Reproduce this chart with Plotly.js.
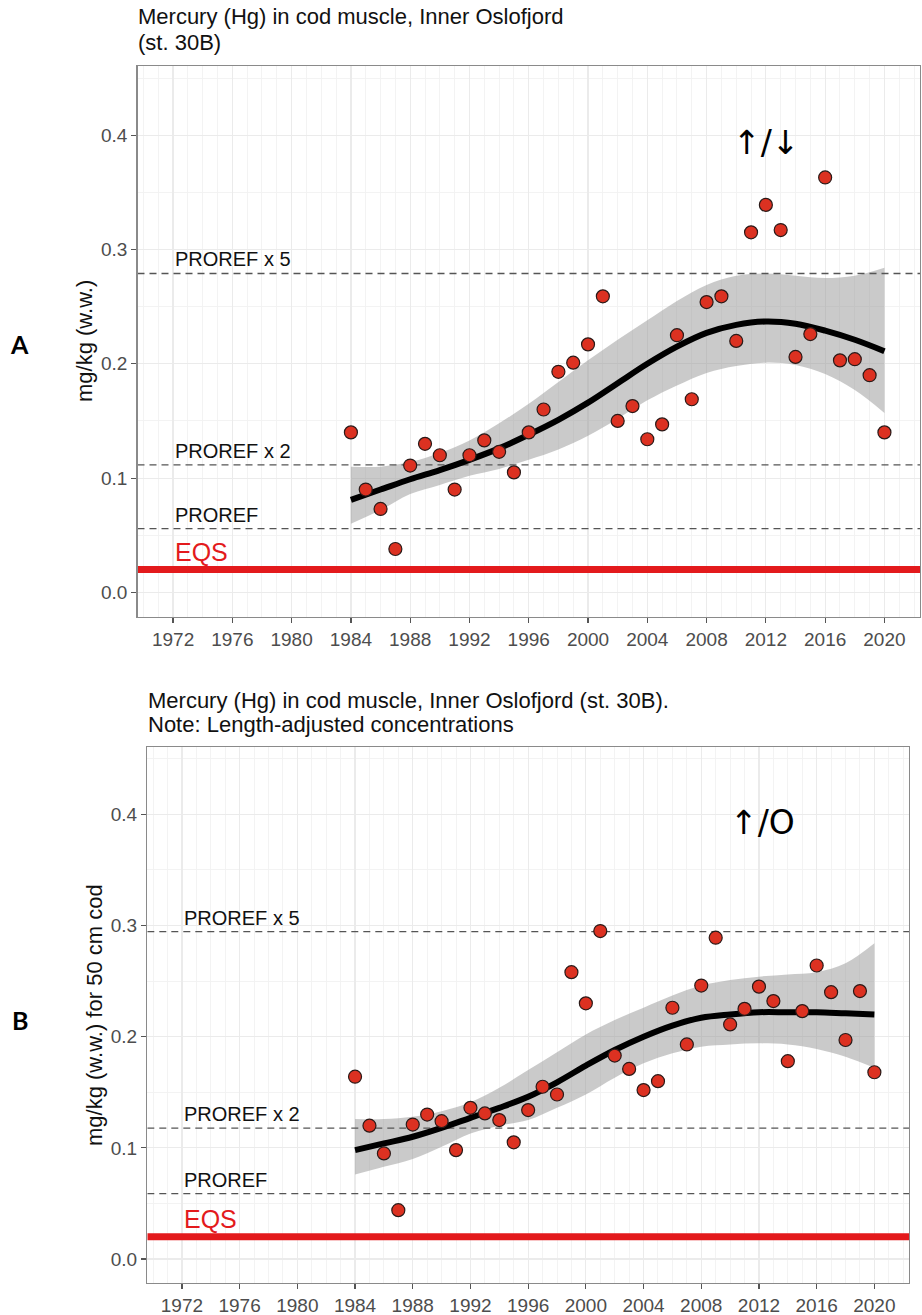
<!DOCTYPE html>
<html>
<head>
<meta charset="utf-8">
<script src="https://cdn.plot.ly/plotly-3.0.1.min.js"></script>
<style>html,body{margin:0;padding:0;background:#fff;}#chart{width:922px;height:1315px;}</style>
</head>
<body>
<div id="chart"></div>
<script>
// ---------- data ----------
const YEARS = [1984,1985,1986,1987,1988,1989,1990,1991,1992,1993,1994,1995,1996,1997,1998,1999,2000,2001,2002,2003,2004,2005,2006,2007,2008,2009,2010,2011,2012,2013,2014,2015,2016,2017,2018,2019,2020];
const HG_A = [0.140,0.090,0.073,0.038,0.111,0.130,0.120,0.090,0.120,0.133,0.123,0.105,0.140,0.160,0.193,0.201,0.217,0.259,0.150,0.163,0.134,0.147,0.225,0.169,0.254,0.259,0.220,0.315,0.339,0.317,0.206,0.226,0.363,0.203,0.204,0.190,0.140];
const HG_B = [0.164,0.120,0.095,0.044,0.121,0.130,0.124,0.098,0.136,0.131,0.125,0.105,0.134,0.155,0.148,0.258,0.230,0.295,0.183,0.171,0.152,0.160,0.226,0.193,0.246,0.289,0.211,0.225,0.245,0.232,0.178,0.223,0.264,0.240,0.197,0.241,0.168];

const FIT_YEARS = [1984,1986,1988,1990,1992,1994,1996,1998,2000,2002,2004,2006,2008,2010,2012,2014,2016,2018,2020];
const FIT_A   = [0.081,0.090,0.099,0.107,0.116,0.126,0.138,0.151,0.166,0.183,0.200,0.215,0.227,0.234,0.237,0.235,0.229,0.221,0.211];
const UPPER_A = [0.110,0.110,0.114,0.122,0.133,0.148,0.165,0.184,0.203,0.221,0.238,0.255,0.269,0.277,0.279,0.277,0.275,0.277,0.284];
const LOWER_A = [0.060,0.072,0.086,0.094,0.102,0.108,0.116,0.125,0.137,0.152,0.168,0.181,0.192,0.198,0.201,0.199,0.191,0.177,0.157];
const FIT_B   = [0.098,0.104,0.110,0.118,0.127,0.136,0.146,0.159,0.174,0.188,0.200,0.210,0.217,0.220,0.222,0.222,0.222,0.221,0.220];
const UPPER_B = [0.126,0.126,0.128,0.133,0.141,0.154,0.170,0.186,0.202,0.215,0.226,0.237,0.246,0.251,0.254,0.256,0.258,0.266,0.284];
const LOWER_B = [0.076,0.083,0.090,0.101,0.113,0.120,0.125,0.136,0.148,0.163,0.176,0.185,0.191,0.193,0.194,0.193,0.189,0.182,0.172];

const PROREF_A = 0.0558;
const PROREF_B = 0.0589;
const EQS = 0.02;
const REF_LABELS = ["PROREF", "PROREF x 2", "PROREF x 5"];
const REF_MULT = [1, 2, 5];
const TITLE_A = ["Mercury (Hg) in cod muscle, Inner Oslofjord", "(st. 30B)"];
const TITLE_B = ["Mercury (Hg) in cod muscle, Inner Oslofjord (st. 30B).", "Note: Length-adjusted concentrations"];
const YTITLE_A = "mg/kg (w.w.)";
const YTITLE_B = "mg/kg (w.w.) for 50 cm cod";
const TREND_A = "↑/↓";
const TREND_B = "↑/O";

// ---------- styling ----------
const W = 922, H = 1315;
const X_RANGE = [1969.6, 2022.4];
const Y_RANGE = [-0.0215, 0.4605];
const FONT = "Liberation Sans, Arial, Helvetica, sans-serif";
const RED_PT = "#dc3121";
const px = v => v / W;
const py = v => 1 - v / H;

function hline(xa, ya, v, line) {
  return {x: X_RANGE, y: [v, v], xaxis: xa, yaxis: ya, mode: "lines", line: line, hoverinfo: "skip", cliponaxis: true};
}

function panelTraces(xa, ya, fit, up, lo, pts, proref) {
  const t = [
    {x: FIT_YEARS, y: lo, xaxis: xa, yaxis: ya, mode: "lines", line: {width: 0, shape: "spline"}, hoverinfo: "skip"},
    {x: FIT_YEARS, y: up, xaxis: xa, yaxis: ya, mode: "lines", line: {width: 0, shape: "spline"}, fill: "tonexty", fillcolor: "rgba(150,150,150,0.5)", hoverinfo: "skip"}
  ];
  REF_MULT.forEach(m => t.push(hline(xa, ya, proref * m, {color: "#555", width: 1.3, dash: "7px,5px"})));
  t.push(hline(xa, ya, EQS, {color: "#e31a1c", width: 7}));
  t.push({x: FIT_YEARS, y: fit, xaxis: xa, yaxis: ya, mode: "lines", line: {color: "#000", width: 6, shape: "spline"}});
  t.push({x: YEARS, y: pts, xaxis: xa, yaxis: ya, mode: "markers", marker: {size: 13, color: RED_PT, line: {color: "#2a1a18", width: 1.2}}});
  return t;
}

const data = [].concat(
  panelTraces("x", "y", FIT_A, UPPER_A, LOWER_A, HG_A, PROREF_A),
  panelTraces("x2", "y2", FIT_B, UPPER_B, LOWER_B, HG_B, PROREF_B)
);

function xAxis(domain, anchor) {
  return {
    domain: domain, anchor: anchor, range: X_RANGE,
    tickmode: "linear", tick0: 1972, dtick: 4,
    ticks: "outside", ticklen: 5, tickwidth: 1.2, tickcolor: "#555",
    tickfont: {family: FONT, size: 19, color: "#4d4d4d"},
    showgrid: true, gridcolor: "#ebebeb", gridwidth: 1.2,
    minor: {tick0: 1972, dtick: 1, showgrid: true, gridcolor: "#f2f2f2", gridwidth: 0.9},
    showline: true, mirror: true, linecolor: "#8a8a8a", linewidth: 1.3,
    zeroline: false, fixedrange: true
  };
}
function yAxis(domain, anchor) {
  return {
    domain: domain, anchor: anchor, range: Y_RANGE,
    tickmode: "linear", tick0: 0, dtick: 0.1, tickformat: ".1f",
    ticks: "outside", ticklen: 5, tickwidth: 1.2, tickcolor: "#555",
    tickfont: {family: FONT, size: 19, color: "#4d4d4d"},
    showgrid: true, gridcolor: "#ebebeb", gridwidth: 1.2,
    minor: {tick0: 0, dtick: 0.05, showgrid: true, gridcolor: "#f2f2f2", gridwidth: 0.9},
    showline: true, mirror: true, linecolor: "#8a8a8a", linewidth: 1.3,
    zeroline: false, fixedrange: true
  };
}

const annotations = [];
function refLabels(xr, yr, proref) {
  REF_MULT.forEach((m, i) => {
    annotations.push({xref: xr, yref: yr, x: 1972, y: proref * m, xanchor: "left", yanchor: "bottom", yshift: 1,
      text: REF_LABELS[i], showarrow: false, font: {family: FONT, size: 20, color: "#111"}});
  });
  annotations.push({xref: xr, yref: yr, x: 1972, y: EQS, xanchor: "left", yanchor: "bottom", yshift: 2,
    text: "EQS", showarrow: false, font: {family: FONT, size: 25, color: "#e31a1c"}});
}
refLabels("x", "y", PROREF_A);
refLabels("x2", "y2", PROREF_B);

function txt(text, x, y, size, opts) {
  annotations.push(Object.assign({xref: "paper", yref: "paper", x: px(x), y: py(y), text: text, showarrow: false,
    xanchor: "left", yanchor: "middle", font: {family: FONT, size: size, color: "#111"}}, opts || {}));
}
// titles
txt(TITLE_A[0], 136, 16, 22);
txt(TITLE_A[1], 136, 42, 22);
txt(TITLE_B[0], 146, 700, 22);
txt(TITLE_B[1], 146, 724, 22);
// y titles
txt(YTITLE_A, 84.5, 341.5, 22, {xanchor: "center", textangle: -90});
txt(YTITLE_B, 94, 1015, 22, {xanchor: "center", textangle: -90});
// panel letters
txt("<b>A</b>", 19.5, 344, 25, {xanchor: "center", font: {family: "Lato, DejaVu Sans, sans-serif", size: 25, color: "#000"}});
txt("<b>B</b>", 19.5, 1020, 25, {xanchor: "center", font: {family: "Lato, DejaVu Sans, sans-serif", size: 25, color: "#000"}});
// trend symbols
txt(TREND_A, 766, 143, 33, {xanchor: "center", font: {family: "DejaVu Sans, sans-serif", size: 33, color: "#000"}});
txt(TREND_B, 762, 822, 33, {xanchor: "center", font: {family: "DejaVu Sans, sans-serif", size: 33, color: "#000"}});

const layout = {
  width: W, height: H, margin: {l: 0, r: 0, t: 0, b: 0},
  paper_bgcolor: "#fff", plot_bgcolor: "#fff", showlegend: false,
  xaxis: xAxis([px(137.5), px(920)], "y"),
  yaxis: yAxis([py(617), py(66)], "x"),
  xaxis2: xAxis([px(147.3), px(909)], "y2"),
  yaxis2: yAxis([py(1283), py(747)], "x2"),
  annotations: annotations
};

Plotly.newPlot("chart", data, layout, {staticPlot: true, displayModeBar: false});
</script>
</body>
</html>
